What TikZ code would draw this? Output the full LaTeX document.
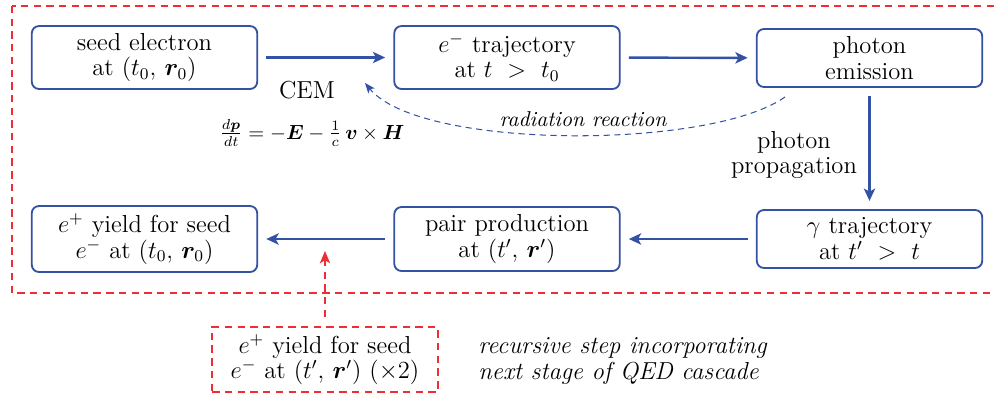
\documentclass[tikz,border=0pt]{standalone}
\usepackage{amsmath,bm}
\usetikzlibrary{arrows.meta}
\definecolor{flowblue}{RGB}{52,82,164}
\definecolor{loopred}{RGB}{238,45,55}
\tikzset{
  stage/.style={draw=flowblue, line width=0.9pt, rounded corners=3.5pt,
    minimum width=110pt, align=center, inner sep=2pt,
    font=\fontsize{12}{12.5}\selectfont},
  flow/.style={draw=flowblue, line width=1.2pt,
    -{Stealth[length=6pt,width=5.5pt,inset=1.5pt]},
    shorten <=4pt, shorten >=4pt},
  feedback/.style={draw=flowblue, line width=0.5pt, dash pattern=on 3pt off 2.2pt,
    -{Stealth[length=5pt,width=4pt,inset=1.2pt]}},
  reddash/.style={draw=loopred, line width=0.9pt, dash pattern=on 3.6pt off 2.6pt},
  recur/.style={reddash, minimum width=110pt, minimum height=31.5pt,
    align=center, inner sep=2pt, font=\fontsize{12}{12.5}\selectfont},
  lbl/.style={align=center, inner sep=0pt, font=\fontsize{12}{12.5}\selectfont},
}
\begin{document}
\begin{tikzpicture}[x=0.488pt, y=-0.488pt]
\useasboundingbox (0,0) rectangle (995,399);

% outer cascade loop
\draw[reddash] (12,6) rectangle (1010,293);

% stages of one cascade step
\node[stage, minimum height=30.7pt] (seed) at (144.5,57.5) {seed electron\\at $(t_0,\,\bm r_0)$};
\node[stage, minimum height=30.7pt] (traj) at (507,57.5) {$e^-$ trajectory\\at $t\ >\ t_0$};
\node[stage, minimum height=28.3pt] (emit) at (869.5,58) {photon\\emission};
\node[stage, minimum height=28.3pt] (gam)  at (869.5,239) {$\gamma$ trajectory\\at $t'\ >\ t$};
\node[stage, minimum height=31.2pt] (pair) at (507,239) {pair production\\at $(t',\,\bm r')$};
\node[stage, minimum height=32.2pt] (yield) at (144.5,239) {$e^+$ yield for seed\\$e^-$ at $(t_0,\,\bm r_0)$};

% main flow
\draw[flow] (seed) -- (traj);
\draw[flow] (traj) -- (emit);
\draw[flow] (emit) -- (gam);
\draw[flow] (gam) -- (pair);
\draw[flow] (pair) -- (yield);

% labels
\node[lbl] (cem) at (307,90) {CEM};
\node[lbl, font=\fontsize{10.2}{12}\selectfont] (eom) at (312,133) {$\frac{d\bm p}{dt} = -\bm E - \frac{1}{c}\,\bm v\times\bm H$};
\node[lbl] (prop) at (794,155) {photon\\propagation};

% radiation reaction feedback
\coordinate (rrfrom) at (785,97);
\coordinate (rrto) at (365,83);
\draw[feedback] (rrfrom) .. controls (710,150) and (420,150) .. (rrto);
\node[inner sep=0pt, font=\fontsize{10.5}{12}\selectfont\itshape] (rr) at (583,119) {radiation reaction};

% recursive step
\node[recur] (next) at (325,359.5) {$e^+$ yield for seed\\$e^-$ at $(t',\,\bm r')$ $(\times 2)$};
\coordinate (nexttip) at (325,251);
\draw[reddash, -{Stealth[length=6pt,width=5pt,inset=1.5pt]}, shorten <=4.5pt] (next) -- (nexttip);
\node[anchor=west, align=left, inner sep=0pt, font=\fontsize{12}{12.5}\selectfont\itshape] (note) at (478,361)
  {recursive step incorporating\\next stage of QED cascade};
\end{tikzpicture}
\end{document}
